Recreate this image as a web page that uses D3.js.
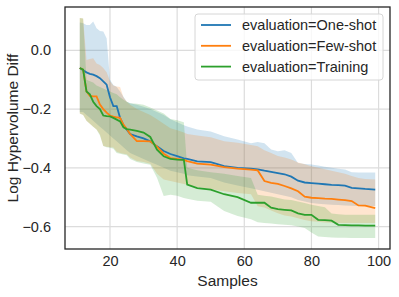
<!DOCTYPE html>
<html lang="en">
<head>
  <meta charset="UTF-8" />
  <script src="https://d3js.org/d3.v7.min.js"></script>
  <style>
    body { margin: 0; background: #fff; }
    svg text { font-family: "Liberation Sans", Arial, sans-serif; fill: #262626; }
  </style>
  <title>Log Hypervolume Diff</title>
</head>
<body>
  <div id="chart"></div>
  <script>
    const samples = [11,12,13,14,15,16,17,18,19,20,21,22,23,24,25,26,28,30,32,34,36,38,40,42,43,46,50,54,58,62,64,66,68,70,72,74,76,78,80,82,84,86,88,90,92,94,96,99];

    const seriesNames = ["evaluation=One-shot", "evaluation=Few-shot", "evaluation=Training"];
    const colors = ["#1f77b4", "#ff7f0e", "#2ca02c"];

    const oneShotMean = [-0.060,-0.068,-0.075,-0.080,-0.083,-0.088,-0.095,-0.106,-0.117,-0.160,-0.190,-0.190,-0.230,-0.255,-0.270,-0.285,-0.293,-0.300,-0.310,-0.327,-0.343,-0.353,-0.360,-0.368,-0.370,-0.378,-0.381,-0.394,-0.400,-0.403,-0.405,-0.410,-0.414,-0.418,-0.422,-0.430,-0.444,-0.450,-0.452,-0.454,-0.456,-0.458,-0.459,-0.461,-0.468,-0.470,-0.472,-0.474];
    const oneShotHi = [0.095,0.092,0.086,0.086,0.098,0.075,0.066,0.064,0.041,-0.100,-0.118,-0.125,-0.140,-0.158,-0.175,-0.180,-0.185,-0.192,-0.200,-0.210,-0.220,-0.235,-0.245,-0.255,-0.259,-0.270,-0.276,-0.293,-0.304,-0.316,-0.312,-0.316,-0.338,-0.344,-0.340,-0.350,-0.384,-0.387,-0.389,-0.392,-0.396,-0.400,-0.403,-0.406,-0.415,-0.416,-0.416,-0.416];
    const oneShotLo = [-0.210,-0.210,-0.220,-0.230,-0.240,-0.250,-0.260,-0.270,-0.280,-0.290,-0.300,-0.310,-0.320,-0.330,-0.340,-0.350,-0.360,-0.370,-0.380,-0.390,-0.400,-0.410,-0.415,-0.420,-0.425,-0.430,-0.435,-0.450,-0.460,-0.470,-0.475,-0.480,-0.485,-0.490,-0.495,-0.500,-0.510,-0.515,-0.520,-0.522,-0.524,-0.526,-0.527,-0.528,-0.529,-0.530,-0.530,-0.530];

    const fewShotMean = [-0.060,-0.066,-0.140,-0.155,-0.157,-0.157,-0.185,-0.200,-0.212,-0.222,-0.226,-0.228,-0.230,-0.253,-0.268,-0.285,-0.309,-0.309,-0.310,-0.328,-0.352,-0.367,-0.370,-0.373,-0.377,-0.386,-0.389,-0.398,-0.403,-0.406,-0.409,-0.445,-0.451,-0.455,-0.462,-0.470,-0.480,-0.498,-0.502,-0.503,-0.505,-0.506,-0.508,-0.510,-0.513,-0.528,-0.529,-0.537];
    const fewShotHi = [0.110,0.108,-0.033,-0.030,-0.027,-0.045,-0.050,-0.060,-0.075,-0.105,-0.120,-0.123,-0.125,-0.160,-0.175,-0.185,-0.200,-0.210,-0.220,-0.235,-0.250,-0.265,-0.272,-0.280,-0.285,-0.290,-0.296,-0.310,-0.315,-0.322,-0.327,-0.340,-0.350,-0.360,-0.365,-0.372,-0.382,-0.388,-0.395,-0.400,-0.405,-0.410,-0.415,-0.420,-0.428,-0.435,-0.438,-0.440];
    const fewShotLo = [-0.215,-0.220,-0.240,-0.250,-0.260,-0.270,-0.286,-0.326,-0.328,-0.330,-0.331,-0.345,-0.350,-0.352,-0.354,-0.365,-0.377,-0.380,-0.386,-0.420,-0.440,-0.445,-0.450,-0.455,-0.458,-0.465,-0.472,-0.480,-0.486,-0.490,-0.531,-0.535,-0.545,-0.555,-0.562,-0.566,-0.572,-0.578,-0.582,-0.584,-0.586,-0.587,-0.588,-0.588,-0.588,-0.588,-0.588,-0.588];

    const trainingMean = [-0.060,-0.066,-0.140,-0.150,-0.175,-0.190,-0.200,-0.222,-0.224,-0.225,-0.230,-0.236,-0.242,-0.262,-0.268,-0.270,-0.274,-0.280,-0.295,-0.338,-0.361,-0.370,-0.372,-0.373,-0.457,-0.469,-0.474,-0.490,-0.500,-0.519,-0.519,-0.519,-0.536,-0.541,-0.543,-0.545,-0.555,-0.560,-0.560,-0.577,-0.578,-0.580,-0.594,-0.595,-0.596,-0.596,-0.597,-0.597];
    const trainingHi = [0.110,0.108,-0.100,-0.105,-0.110,-0.120,-0.125,-0.130,-0.135,-0.140,-0.145,-0.150,-0.160,-0.168,-0.175,-0.180,-0.182,-0.185,-0.195,-0.205,-0.215,-0.234,-0.238,-0.245,-0.400,-0.408,-0.415,-0.420,-0.428,-0.435,-0.492,-0.495,-0.498,-0.503,-0.508,-0.510,-0.515,-0.520,-0.526,-0.530,-0.534,-0.556,-0.558,-0.560,-0.560,-0.560,-0.560,-0.560];
    const trainingLo = [-0.215,-0.220,-0.240,-0.250,-0.260,-0.270,-0.290,-0.326,-0.330,-0.332,-0.335,-0.350,-0.352,-0.355,-0.357,-0.370,-0.380,-0.385,-0.390,-0.434,-0.496,-0.492,-0.495,-0.503,-0.505,-0.512,-0.516,-0.547,-0.564,-0.575,-0.585,-0.588,-0.590,-0.592,-0.594,-0.596,-0.600,-0.605,-0.620,-0.634,-0.636,-0.637,-0.638,-0.638,-0.639,-0.639,-0.639,-0.639];

    const xTicks = [20, 40, 60, 80, 100];
    const yTicks = [0.0, -0.2, -0.4, -0.6];

    const series = [
      { name: seriesNames[0], color: colors[0], mean: oneShotMean, lo: oneShotLo, hi: oneShotHi },
      { name: seriesNames[1], color: colors[1], mean: fewShotMean, lo: fewShotLo, hi: fewShotHi },
      { name: seriesNames[2], color: colors[2], mean: trainingMean, lo: trainingLo, hi: trainingHi }
    ];

    const width = 399, height = 297;
    const margin = { top: 7, right: 9, bottom: 48, left: 65 };

    const svg = d3.select("#chart").append("svg")
      .attr("width", width)
      .attr("height", height);

    // matplotlib-like 5% padding around the data
    const xMin = d3.min(samples), xMax = d3.max(samples);
    const xPad = (xMax - xMin) * 0.05;
    const yMin = d3.min(series, s => d3.min(s.lo)), yMax = d3.max(series, s => d3.max(s.hi));
    const yPad = (yMax - yMin) * 0.05;

    const x = d3.scaleLinear()
      .domain([xMin - xPad, xMax + xPad])
      .range([margin.left, width - margin.right]);

    const y = d3.scaleLinear()
      .domain([yMin - yPad, yMax + yPad])
      .range([height - margin.bottom, margin.top]);

    // grid
    svg.append("g")
      .selectAll("line.gx")
      .data(xTicks)
      .join("line")
      .attr("x1", d => x(d)).attr("x2", d => x(d))
      .attr("y1", margin.top).attr("y2", height - margin.bottom)
      .attr("stroke", "#dcdcdc").attr("stroke-width", 1.2);

    svg.append("g")
      .selectAll("line.gy")
      .data(yTicks)
      .join("line")
      .attr("x1", margin.left).attr("x2", width - margin.right)
      .attr("y1", d => y(d)).attr("y2", d => y(d))
      .attr("stroke", "#dcdcdc").attr("stroke-width", 1.2);

    const plot = svg.append("g");

    series.forEach(s => {
      const area = d3.area()
        .x((d, i) => x(samples[i]))
        .y0((d, i) => y(s.lo[i]))
        .y1((d, i) => y(s.hi[i]));
      plot.append("path")
        .datum(samples)
        .attr("fill", s.color)
        .attr("fill-opacity", 0.2)
        .attr("stroke", "none")
        .attr("d", area);
    });

    series.forEach(s => {
      const line = d3.line()
        .x((d, i) => x(samples[i]))
        .y((d, i) => y(s.mean[i]));
      plot.append("path")
        .datum(samples)
        .attr("fill", "none")
        .attr("stroke", s.color)
        .attr("stroke-width", 1.8)
        .attr("d", line);
    });

    // axes (no tick marks, whitegrid style)
    const xAxis = svg.append("g")
      .attr("transform", `translate(0,${height - margin.bottom})`)
      .call(d3.axisBottom(x).tickValues(xTicks).tickSize(0).tickPadding(7).tickFormat(d3.format("d")));
    xAxis.select(".domain").remove();
    xAxis.selectAll("text").attr("font-size", "14.5px").attr("fill", "#262626");

    const yAxis = svg.append("g")
      .attr("transform", `translate(${margin.left},0)`)
      .call(d3.axisLeft(y).tickValues(yTicks).tickSize(0).tickPadding(14).tickFormat(d3.format(".1f")));
    yAxis.select(".domain").remove();
    yAxis.selectAll("text").attr("font-size", "14.5px").attr("fill", "#262626");

    // frame
    svg.append("rect")
      .attr("x", margin.left).attr("y", margin.top)
      .attr("width", width - margin.left - margin.right)
      .attr("height", height - margin.top - margin.bottom)
      .attr("fill", "none")
      .attr("stroke", "#262626")
      .attr("stroke-width", 1.3);

    svg.append("text")
      .attr("x", (margin.left + width - margin.right) / 2)
      .attr("y", 286)
      .attr("text-anchor", "middle")
      .attr("font-size", "15.5px")
      .text("Samples");

    svg.append("text")
      .attr("transform", `translate(18,${(margin.top + height - margin.bottom) / 2}) rotate(-90)`)
      .attr("text-anchor", "middle")
      .attr("font-size", "15.5px")
      .text("Log Hypervolume Diff");

    // legend
    const legend = svg.append("g").attr("transform", "translate(195,14)");
    legend.append("rect")
      .attr("width", 188).attr("height", 66)
      .attr("rx", 3)
      .attr("fill", "#fff").attr("fill-opacity", 0.8)
      .attr("stroke", "#d6d6d6");
    series.forEach((s, i) => {
      const ly = 11 + i * 20.8;
      legend.append("line")
        .attr("x1", 6).attr("x2", 36)
        .attr("y1", ly).attr("y2", ly)
        .attr("stroke", s.color).attr("stroke-width", 1.8);
      legend.append("text")
        .attr("x", 47).attr("y", ly + 5)
        .attr("font-size", "14.5px")
        .text(s.name);
    });
  </script>
</body>
</html>
